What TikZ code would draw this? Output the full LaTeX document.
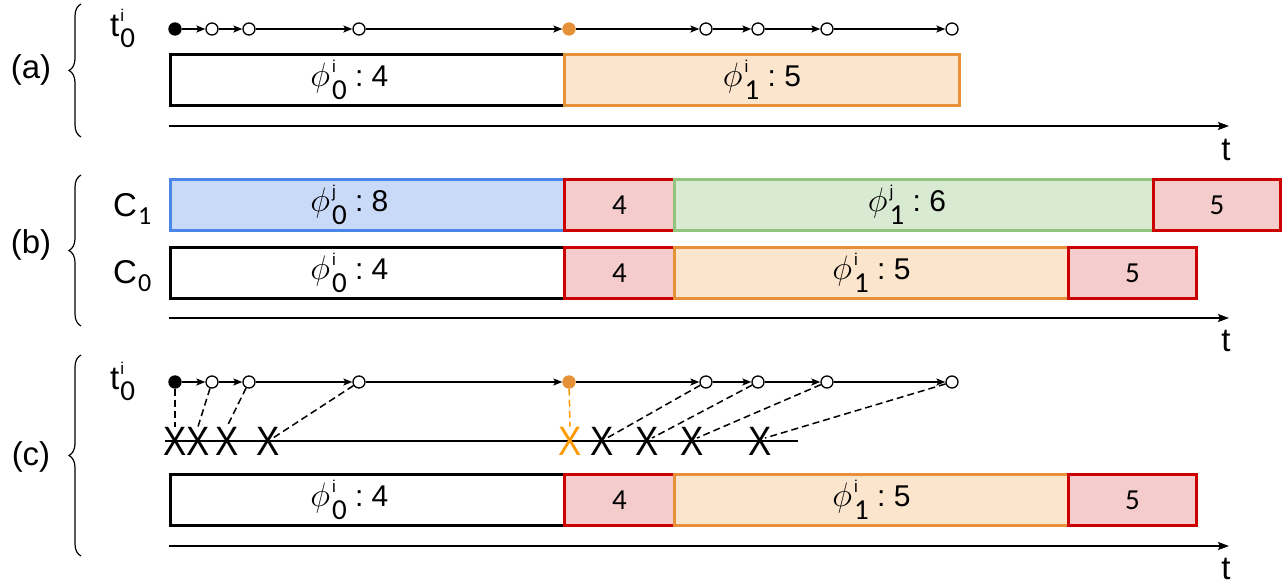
\documentclass[tikz,border=0pt]{standalone}
\usepackage{fix-cm}
\usepackage{amsmath}
\usepackage{fontspec}
\setmainfont{Liberation Sans}
\newfontfamily\numfont{Carlito}
\usetikzlibrary{arrows.meta,decorations.pathreplacing,calc}

\definecolor{orangeline}{HTML}{E69138}
\definecolor{orangefill}{HTML}{FCE5CD}
\definecolor{redline}{HTML}{CC0000}
\definecolor{redfill}{HTML}{F4CCCC}
\definecolor{blueline}{HTML}{4A86E8}
\definecolor{bluefill}{HTML}{C9DAF8}
\definecolor{greenline}{HTML}{93C47D}
\definecolor{greenfill}{HTML}{D9EAD3}
\definecolor{dotorange}{HTML}{E69138}
\definecolor{xorange}{HTML}{FF9900}

% index pair: small superscript above a large, lowered subscript
\newcommand\idxpair[4]{%
  \raisebox{-#3}{\makebox[0pt][l]{\raisebox{#4}{\fontsize{17}{18}\selectfont #1}}%
  {\numfont\fontsize{29}{30}\selectfont #2}}}
\newcommand\phaselabel[3]{%
  {\fontsize{34}{36}\selectfont$\phi$}\kern2pt\idxpair{#1}{#2}{13pt}{27pt}~:~#3}
% first phase labels sit a little left of their box centre
\newcommand\firstphase[3]{\phaselabel{#1}{#2}{#3}\hspace*{36pt}}
\newcommand\tstart{t\kern1pt\idxpair{i}{0}{11pt}{26pt}}
\newcommand\corelabel[1]{C\kern1pt\raisebox{-8pt}{\numfont\fontsize{26}{28}\selectfont #1}}

\begin{document}
\begin{tikzpicture}[x=1pt,y=-1pt,
  lbl/.style={font=\fontsize{33}{36}\selectfont, inner sep=0pt},
  task/.style={draw, line width=2.8pt, minimum height=51pt, inner sep=0pt,
    anchor=north west, font=\fontsize{30}{32}\selectfont},
  plainbox/.style={task, draw=black, fill=white},
  orangebox/.style={task, draw=orangeline, fill=orangefill},
  bluebox/.style={task, draw=blueline, fill=bluefill},
  greenbox/.style={task, draw=greenline, fill=greenfill},
  redbox/.style={task, draw=redline, fill=redfill,
    font=\numfont\fontsize{29}{32}\selectfont},
  ev/.style={circle, draw, line width=1.3pt, fill=white, minimum size=12pt, inner sep=0pt},
  evstart/.style={ev, fill=black},
  evorange/.style={ev, draw=dotorange, fill=dotorange},
  seq/.style={line width=1.4pt, -{Stealth[length=9pt,width=7pt,inset=2pt]}},
  axis/.style={line width=1.5pt, -{Stealth[length=11pt,width=8pt,inset=2pt]}},
  grp/.style={decorate, decoration={brace, amplitude=12pt}, line width=1.2pt},
  xmark/.style={font=\fontsize{41}{42}\selectfont, inner sep=0pt},
  link/.style={line width=1.5pt, dash pattern=on 7pt off 4pt},
  orangelink/.style={link, draw=xorange}
]
\useasboundingbox (0,0) rectangle (1282,584);

% ---------------- (a) ----------------
\draw[grp] (81,137) -- (81,4);
\node[lbl] (la) at (31,70) {(a)};
\node[lbl, anchor=base west] (ta) at (110,36) {\tstart};

\node[evstart] (a0) at (175,29) {};
\node[ev] (a1) at (212,29) {};
\node[ev] (a2) at (249,29) {};
\node[ev] (a3) at (359,29) {};
\node[evorange] (a4) at (569,29) {};
\node[ev] (a5) at (706,29) {};
\node[ev] (a6) at (758,29) {};
\node[ev] (a7) at (827,29) {};
\node[ev] (a8) at (952,29) {};
\foreach \i/\j in {0/1,1/2,2/3,3/4,4/5,5/6,6/7,7/8}
  \draw[seq] (a\i) -- (a\j);

\node[plainbox, minimum width=394pt] (aphi0) at (169,53) {\firstphase{i}{0}{4}};
\node[orangebox, minimum width=395pt] (aphi1) at (563,53) {\phaselabel{i}{1}{5}};

\coordinate (axa0) at (169,126);
\coordinate (axa1) at (1229,126);
\draw[axis] (axa0) -- (axa1);
\node[lbl] (tla) at (1226,150) {t};

% ---------------- (b) ----------------
\draw[grp] (81,326) -- (81,175);
\node[lbl] (lb) at (31,245) {(b)};
\node[lbl, anchor=base west] (c1) at (113,216) {\corelabel{1}};
\node[lbl, anchor=base west] (c0) at (113,283) {\corelabel{0}};

\node[bluebox, minimum width=394pt] (bj0) at (169,178) {\firstphase{j}{0}{8}};
\node[redbox, minimum width=110pt] (bw1) at (563,178) {4};
\node[greenbox, minimum width=479pt] (bj1) at (673,178) {\phaselabel{j}{1}{6}\hspace*{14pt}};
\node[redbox, minimum width=127pt] (bw2) at (1152,178) {5};

\node[plainbox, minimum width=394pt] (bi0) at (169,246) {\firstphase{i}{0}{4}};
\node[redbox, minimum width=110pt] (bw3) at (563,246) {4};
\node[orangebox, minimum width=394pt] (bi1) at (673,246) {\phaselabel{i}{1}{5}};
\node[redbox, minimum width=128pt] (bw4) at (1067,246) {5};

\coordinate (axb0) at (169,318);
\coordinate (axb1) at (1229,318);
\draw[axis] (axb0) -- (axb1);
\node[lbl] (tlb) at (1226,341) {t};

% ---------------- (c) ----------------
\draw[grp] (81,556) -- (81,355);
\node[lbl] (lc) at (31,457) {(c)};
\node[lbl, anchor=base west] (tc) at (110,389) {\tstart};

\coordinate (xl0) at (165,441);
\coordinate (xl1) at (798,441);
\draw[line width=1.5pt] (xl0) -- (xl1);

\node[evstart] (c0e) at (175,382) {};
\node[ev] (c1e) at (212,382) {};
\node[ev] (c2e) at (249,382) {};
\node[ev] (c3e) at (359,382) {};
\node[evorange] (c4e) at (569,382) {};
\node[ev] (c5e) at (706,382) {};
\node[ev] (c6e) at (758,382) {};
\node[ev] (c7e) at (827,382) {};
\node[ev] (c8e) at (952,382) {};
\foreach \i/\j in {0/1,1/2,2/3,3/4,4/5,5/6,6/7,7/8}
  \draw[seq] (c\i e) -- (c\j e);

\node[xmark] (x0) at (175,441) {\scalebox{0.85}[1]{X}};
\node[xmark] (x1) at (198,441) {\scalebox{0.85}[1]{X}};
\node[xmark] (x2) at (227,441) {\scalebox{0.85}[1]{X}};
\node[xmark] (x3) at (268,441) {\scalebox{0.85}[1]{X}};
\node[xmark, text=xorange] (x4) at (570,441) {\scalebox{0.85}[1]{X}};
\node[xmark] (x5) at (602,441) {\scalebox{0.85}[1]{X}};
\node[xmark] (x6) at (647,441) {\scalebox{0.85}[1]{X}};
\node[xmark] (x7) at (692,441) {\scalebox{0.85}[1]{X}};
\node[xmark] (x8) at (760,441) {\scalebox{0.85}[1]{X}};

\draw[link] (c0e) -- (x0.north);
\draw[link] (c1e) -- (x1.north);
\draw[link] (c2e) -- (x2.north);
\draw[orangelink] (c4e) -- (x4.north);
\foreach \k in {3,5,6,7,8}
  \draw[link] (c\k e) -- ($(x\k.center)+(5,-3)$);

\node[plainbox, minimum width=394pt] (ci0) at (169,473) {\firstphase{i}{0}{4}};
\node[redbox, minimum width=110pt] (cw1) at (563,473) {4};
\node[orangebox, minimum width=394pt] (ci1) at (673,473) {\phaselabel{i}{1}{5}};
\node[redbox, minimum width=128pt] (cw2) at (1067,473) {5};

\coordinate (axc0) at (169,546);
\coordinate (axc1) at (1229,546);
\draw[axis] (axc0) -- (axc1);
\node[lbl] (tlc) at (1226,569) {t};
\end{tikzpicture}
\end{document}
